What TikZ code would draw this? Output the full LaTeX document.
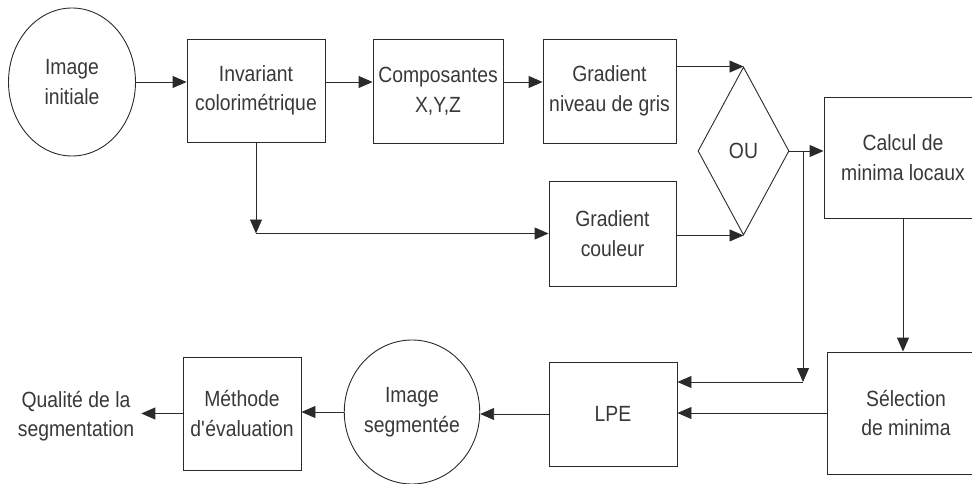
\documentclass[tikz,border=0pt]{standalone}
\usepackage{fontspec}
\setmainfont{Liberation Sans}[FakeStretch=0.88]
\usetikzlibrary{arrows.meta,shapes.geometric}
\definecolor{txtgray}{HTML}{383838}
\definecolor{linegray}{HTML}{2A2A2A}
\begin{document}
\begin{tikzpicture}[x=1pt,y=-1pt,
        every node/.style={text=txtgray,font=\fontsize{22}{29.5}\selectfont,align=center,inner sep=0pt},
        blockbox/.style={draw=linegray,line width=.9pt,rectangle},
        roundbox/.style={draw=linegray,line width=.9pt,ellipse},
        choice/.style={draw=linegray,line width=.9pt,diamond},
        arr/.style={draw=linegray,line width=.9pt,-{Triangle[length=14pt,width=12pt]}}]
        \clip (0,0) rectangle (972,484);
        \node [roundbox,minimum width=127,minimum height=148] (init) at (72,82) {Image\\initiale};
        \node [blockbox,minimum width=138,minimum height=103] (inv) at (256,90.5) {Invariant\\colorimétrique};
        \node [blockbox,minimum width=130,minimum height=104] (comp) at (438,91) {Composantes\\X,Y,Z};
        \node [blockbox,minimum width=133,minimum height=104] (gng) at (609.5,91) {Gradient\\niveau de gris};
        \node [blockbox,minimum width=127,minimum height=105] (gc) at (612.5,233.5) {Gradient\\couleur};
        \node [choice,minimum width=91,minimum height=168] (ou) at (743.5,151) {OU};
        \node [blockbox,minimum width=158,minimum height=121] (calc) at (903,157.5) {Calcul de\\minima locaux};
        \node [blockbox,minimum width=158,minimum height=122] (sel) at (906,413) {Sélection\\de minima};
        \node [blockbox,minimum width=128,minimum height=104] (lpe) at (613,414) {LPE};
        \node [roundbox,minimum width=118,minimum height=144] (seg) at (412,412) {Image\\segmentée};
        \node [blockbox,minimum width=118,minimum height=113] (meth) at (242,413.5) {Méthode\\d\textquotesingle évaluation};
        \node [inner xsep=7pt] (qual) at (76,416) {Qualité de la\\segmentation};
        \coordinate (j1) at (inv.south |- gc.west);
        \coordinate (j2) at (803,151);
        \coordinate (j3) at (803,382);
        \draw [arr] (init.east) -- (init.east -| inv.west);
        \draw [arr] (inv.east |- init.east) -- (comp.west |- init.east);
        \draw [arr] (comp.east |- init.east) -- (gng.west |- init.east);
        \draw [arr] (gng.east |- ou.north) -- (ou.north);
        \draw [arr] (gc.east |- ou.south) -- (ou.south);
        \draw [arr] (inv.south) -- (j1);
        \draw [arr] (j1) -- (gc.west);
        \draw [arr] (ou.east) -- (ou.east -| calc.west);
        \draw [arr] (j2) -- (j3);
        \draw [arr] (j3) -- (j3 -| lpe.east);
        \draw [arr] (calc.south) -- (calc.south |- sel.north);
        \draw [arr] (sel.west) -- (sel.west -| lpe.east);
        \draw [arr] (lpe.west) -- (lpe.west -| seg.east);
        \draw [arr] (seg.west) -- (seg.west -| meth.east);
        \draw [arr] (meth.west) -- (meth.west -| qual.east);
\end{tikzpicture}
\end{document}
